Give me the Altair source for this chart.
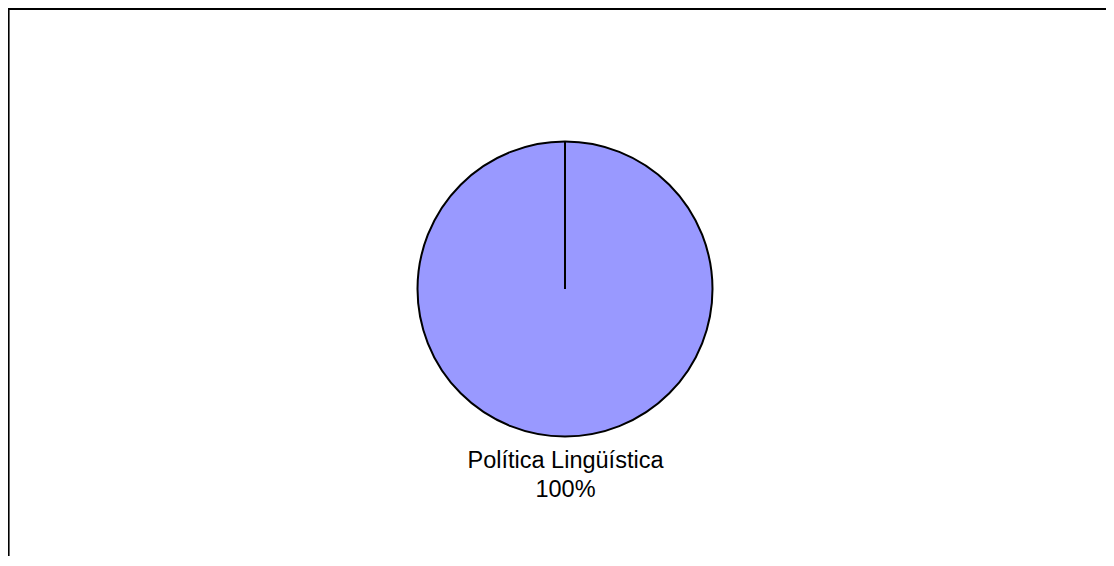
import altair as alt
import pandas as pd

categories = ["Política Lingüística"]
values = [100]
percent_labels = ["100%"]

df = pd.DataFrame({"category": categories, "value": values, "pct": percent_labels})

PL, PT, PR, PB = 5, 5, 8, 10
W, H = 1085, 533
CX, CY, R = 552, 276, 147.5

base = alt.Chart(df)

pie = base.mark_arc(stroke="black", strokeWidth=2, radius=R, color="#9999FF").encode(
    theta=alt.Theta("value:Q", scale=alt.Scale(domain=[0, 100]), stack=True),
    x=alt.value(CX),
    y=alt.value(CY),
)

radial = base.mark_rule(color="black", strokeWidth=2).encode(
    x=alt.value(CX), y=alt.value(CY - R), y2=alt.value(CY)
)

label = base.mark_text(font="Liberation Sans", fontSize=23.5, align="center",
                       baseline="alphabetic", color="black").encode(
    text="category:N", x=alt.value(CX + 0.5), y=alt.value(455)
)
pct = base.mark_text(font="Liberation Sans", fontSize=23.5, align="center",
                     baseline="alphabetic", color="black").encode(
    text="pct:N", x=alt.value(CX + 0.5), y=alt.value(484)
)

frame_top = base.mark_rule(color="black", strokeWidth=2.2).encode(
    x=alt.value(-5), x2=alt.value(W + PR), y=alt.value(-4.2)
)
frame_left = base.mark_rule(color="black", strokeWidth=2.2).encode(
    x=alt.value(-4.5), y=alt.value(-5), y2=alt.value(H + PB)
)

chart = alt.layer(frame_top, frame_left, pie, radial, label, pct).properties(
    width=W, height=H,
    padding={"left": PL, "top": PT, "right": PR, "bottom": PB},
    autosize=alt.AutoSizeParams(type="none"),
).configure_view(stroke=None)

chart.save("out.html", embed_options={"renderer": "svg", "actions": False})
